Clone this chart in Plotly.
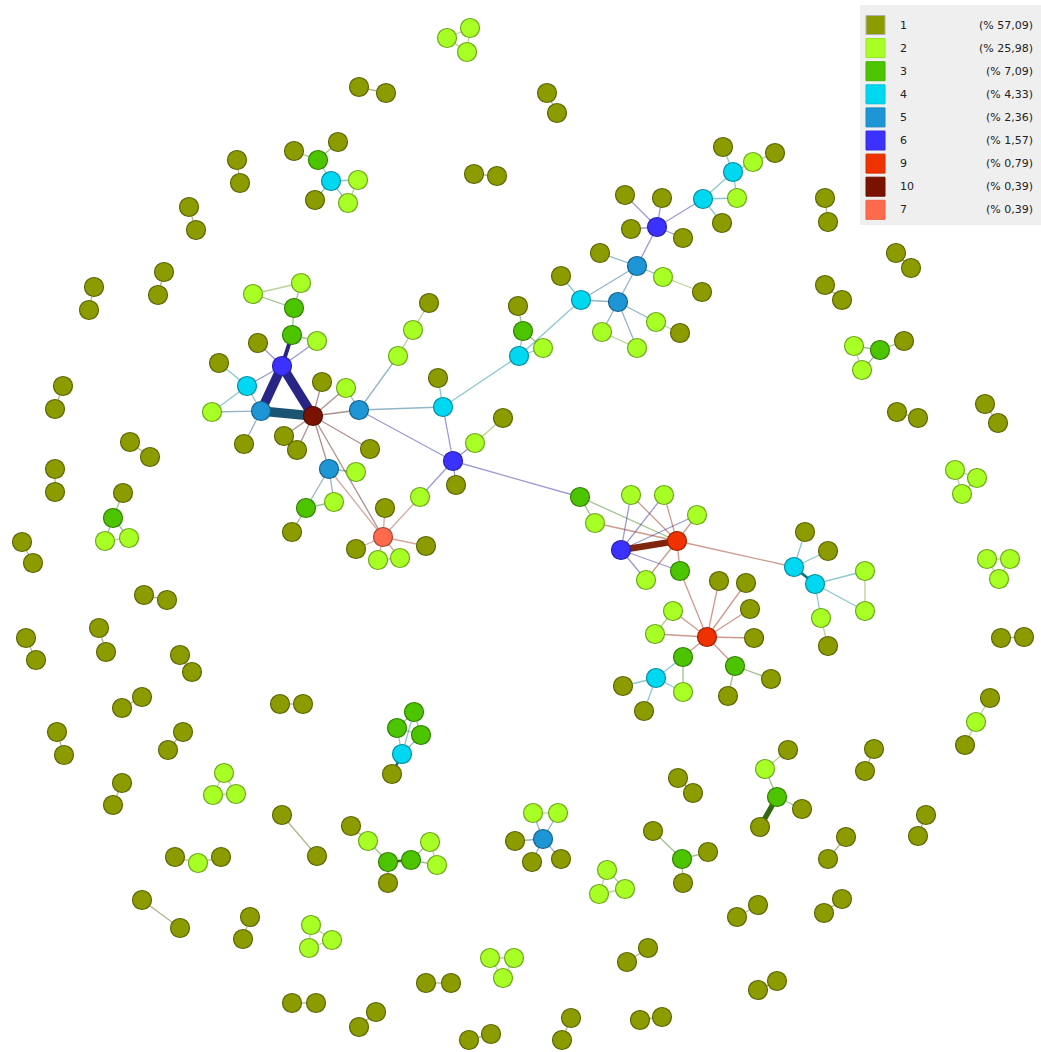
import plotly.graph_objects as go

# Degree classes shown in the legend, with their share of all nodes
classes = ["1", "2", "3", "4", "5", "6", "9", "10", "7"]
shares = ["57,09", "25,98", "7,09", "4,33", "2,36", "1,57", "0,79", "0,39", "0,39"]
class_colors = {
    1: "#8C9B00", 2: "#A8FF26", 3: "#4CC400", 4: "#00D8F2", 5: "#1E96D6",
    6: "#3C32FF", 9: "#F03200", 10: "#7A1200", 7: "#FF6A4C",
}

# Node layout (pixel space) and degree class
node_x = [
    # left hub
    253, 301, 294, 292, 317, 258, 282, 219, 247, 212, 261, 313, 322, 346, 359, 244, 284, 297, 370, 329,
    356, 334, 306, 292, 383, 385, 356, 426, 378, 400, 420, 429, 413, 398,
    # centre
    443, 438, 453, 475, 503, 456, 519, 523, 518, 543,
    # upper right branch
    723, 753, 775, 733, 703, 737, 722, 657, 625, 662, 631, 683, 637, 600, 663, 702, 581, 561, 618, 656,
    680, 602, 637,
    # lower right hubs
    580, 595, 631, 664, 697, 621, 677, 680, 646, 794, 805, 828, 815, 865, 865, 821, 828, 707, 719, 746,
    750, 754, 673, 655, 683, 735, 771, 728, 656, 683, 623, 644,
    # small components
    447, 470, 467,
    294, 338, 318, 331, 358, 315, 348,
    854, 880, 904, 862,
    123, 113, 105, 129,
    955, 977, 962,
    987, 1010, 999,
    990, 976, 965,
    414, 397, 421, 402, 392,
    224, 213, 236,
    788, 765, 777, 802, 760,
    533, 558, 515, 543, 532, 561,
    607, 599, 625,
    653, 682, 708, 683,
    351, 368, 388, 411, 430, 437, 388,
    175, 198, 221,
    311, 309, 332,
    490, 514, 503,
]
node_y = [
    294, 283, 308, 335, 341, 343, 366, 363, 386, 412, 411, 416, 382, 388, 410, 444, 436, 450, 449, 469,
    472, 502, 508, 532, 537, 508, 549, 546, 560, 558, 497, 303, 330, 356,
    407, 378, 461, 443, 418, 485, 356, 331, 306, 348,
    147, 162, 153, 172, 199, 198, 223, 227, 195, 198, 229, 238, 266, 253, 277, 292, 300, 276, 302, 322,
    333, 332, 348,
    497, 523, 495, 495, 515, 550, 541, 571, 580, 567, 532, 551, 584, 571, 611, 618, 646, 637, 581, 583,
    609, 638, 611, 634, 657, 666, 679, 696, 678, 692, 686, 711,
    38, 28, 52,
    151, 142, 160, 181, 180, 200, 203,
    346, 350, 341, 370,
    493, 518, 541, 538,
    470, 478, 494,
    559, 559, 579,
    698, 722, 745,
    712, 728, 735, 754, 774,
    773, 795, 794,
    750, 769, 797, 809, 827,
    813, 813, 841, 839, 862, 859,
    870, 894, 889,
    831, 859, 852, 883,
    826, 841, 862, 860, 842, 865, 883,
    857, 863, 857,
    925, 948, 940,
    958, 958, 978,
]
node_deg = [
    2, 2, 3, 3, 2, 1, 6, 1, 4, 2, 5, 10, 1, 2, 5, 1, 1, 1, 1, 5,
    2, 2, 3, 1, 7, 1, 1, 1, 2, 2, 2, 1, 2, 2,
    4, 1, 6, 2, 1, 1, 4, 3, 1, 2,
    1, 2, 1, 4, 4, 2, 1, 6, 1, 1, 1, 1, 5, 1, 2, 1, 4, 1, 5, 2,
    1, 2, 2,
    3, 2, 2, 2, 2, 6, 9, 3, 2, 4, 1, 1, 4, 2, 2, 2, 1, 9, 1, 1,
    1, 1, 2, 2, 3, 3, 1, 1, 4, 2, 1, 1,
    2, 2, 2,
    1, 1, 3, 4, 2, 1, 2,
    2, 3, 1, 2,
    1, 3, 2, 2,
    2, 2, 2,
    2, 2, 2,
    1, 2, 1,
    3, 3, 3, 4, 1,
    2, 2, 2,
    1, 2, 3, 1, 1,
    2, 2, 1, 5, 1, 1,
    2, 2, 2,
    1, 3, 1, 1,
    1, 2, 3, 3, 2, 2, 1,
    1, 2, 1,
    2, 2, 2,
    2, 2, 2,
]

# Isolated pairs of degree-1 nodes (first end, second end)
pair_x1 = [359, 547, 474, 237, 189, 164, 94, 825, 896, 825, 63, 985, 897, 130, 55, 22, 144, 26, 99, 180,
           1001, 122, 280, 57, 183, 122, 678, 874, 926, 846, 282, 142, 250, 737, 824, 627, 426, 758, 292,
           359, 469, 562, 640]
pair_y1 = [87, 93, 174, 160, 207, 272, 287, 198, 253, 285, 386, 404, 412, 442, 469, 542, 595, 638, 628, 655,
           638, 708, 704, 732, 732, 783, 778, 749, 815, 837, 815, 900, 917, 917, 913, 962, 983, 990, 1003,
           1027, 1040, 1040, 1020]
pair_x2 = [386, 557, 497, 240, 196, 158, 89, 828, 911, 842, 55, 998, 918, 150, 55, 33, 167, 36, 106, 192,
           1024, 142, 303, 64, 168, 113, 693, 865, 918, 828, 317, 180, 243, 758, 842, 648, 451, 777, 316,
           376, 491, 571, 662]
pair_y2 = [93, 113, 176, 183, 230, 295, 310, 222, 268, 300, 409, 423, 418, 457, 492, 563, 600, 660, 652, 672,
           637, 697, 704, 755, 750, 805, 793, 771, 836, 859, 856, 928, 939, 905, 899, 948, 983, 981, 1003,
           1012, 1034, 1018, 1017]

# Edges: (source, target); the source sets the edge colour
edges = [
    (2, 0), (2, 1), (0, 1), (2, 3), (6, 3), (6, 4), (3, 4), (6, 5), (6, 8), (6, 10), (6, 11), (8, 7), (8, 9),
    (8, 10), (10, 9), (10, 11), (10, 15), (11, 12), (11, 13), (14, 13), (11, 14), (11, 16), (11, 17), (11, 18),
    (11, 19), (11, 24), (19, 20), (19, 21), (19, 22), (22, 21), (22, 23), (24, 19), (24, 25), (24, 26),
    (24, 27), (24, 28), (24, 29), (28, 29), (24, 30), (36, 30), (14, 33), (33, 32), (32, 31), (14, 34),
    (36, 14), (34, 35), (36, 34), (34, 40), (36, 37), (37, 38), (36, 39), (36, 67), (40, 41), (41, 42),
    (40, 43), (41, 43), (60, 40),
    (47, 44), (47, 45), (45, 46), (47, 48), (47, 49), (48, 49), (48, 50), (51, 48), (51, 52), (51, 53),
    (51, 54), (51, 55), (51, 56), (56, 57), (56, 58), (58, 59), (56, 60), (56, 62), (60, 61), (62, 60),
    (62, 63), (63, 64), (62, 65), (62, 66), (65, 66),
    (67, 68), (67, 73), (73, 68), (73, 72), (72, 69), (72, 70), (72, 71), (72, 75), (72, 74), (73, 69),
    (73, 70), (73, 71), (73, 75), (73, 74), (73, 76), (76, 77), (76, 78), (76, 79), (79, 80), (79, 81),
    (80, 81), (79, 82), (82, 83), (84, 74), (84, 85), (84, 86), (84, 87), (84, 88), (84, 89), (84, 90),
    (84, 91), (84, 92), (89, 90), (92, 93), (92, 94), (95, 91), (91, 96), (95, 96), (95, 97), (95, 98),
    (99, 100), (100, 101), (99, 101),
    (104, 102), (104, 103), (105, 104), (105, 106), (105, 107), (105, 108), (106, 108),
    (110, 109), (110, 111), (110, 112), (109, 112),
    (114, 113), (114, 115), (114, 116), (115, 116),
    (117, 118), (118, 119), (117, 119),
    (120, 121), (121, 122), (120, 122),
    (124, 123), (124, 125),
    (126, 127), (126, 128), (127, 128), (129, 126), (129, 127), (129, 128), (129, 130),
    (131, 132), (132, 133), (131, 133),
    (135, 134), (136, 135), (136, 137), (136, 138),
    (139, 140), (142, 139), (142, 140), (142, 141), (142, 143), (142, 144),
    (145, 146), (146, 147), (145, 147),
    (149, 148), (149, 150), (149, 151),
    (153, 152), (154, 153), (154, 155), (154, 158), (155, 156), (155, 157), (156, 157),
    (160, 159), (160, 161),
    (162, 163), (163, 164), (162, 164),
    (165, 166), (166, 167), (165, 167),
]
# Edge weights above 1
edge_weight = {
    (6, 10): 7, (6, 11): 7, (10, 11): 7, (6, 3): 3, (73, 72): 5,
    (136, 138): 4, (76, 79): 2, (129, 130): 2, (154, 155): 2,
}

# append the isolated pairs
for x1, y1, x2, y2 in zip(pair_x1, pair_y1, pair_x2, pair_y2):
    a = len(node_x)
    node_x += [x1, x2]
    node_y += [y1, y2]
    node_deg += [1, 1]
    edges.append((a, a + 1))


def hex_rgb(h):
    h = h.lstrip("#")
    return tuple(int(h[i:i + 2], 16) for i in (0, 2, 4))


def shade(h, f, alpha=None):
    r, g, b = (int(round(c * f)) for c in hex_rgb(h))
    if alpha is None:
        return f"rgb({r},{g},{b})"
    return f"rgba({r},{g},{b},{alpha})"


fig = go.Figure()

# edges grouped by colour and width
groups = {}
for s, t in edges:
    w = edge_weight.get((s, t), 1)
    base = class_colors[node_deg[s]]
    if w == 1:
        col = shade(base, 0.6, 0.45)
        width = 1.3
    else:
        col = shade(base, 0.5, 0.95)
        width = 1.35 * w
    g = groups.setdefault((col, width), ([], []))
    g[0].extend([node_x[s], node_x[t], None])
    g[1].extend([node_y[s], node_y[t], None])

for (col, width), (xs, ys) in groups.items():
    fig.add_trace(go.Scatter(x=xs, y=ys, mode="lines", line=dict(color=col, width=width),
                             hoverinfo="skip", showlegend=False))

# nodes, one trace per class
for k in [1, 2, 3, 4, 5, 6, 9, 10, 7]:
    idx = [i for i, d in enumerate(node_deg) if d == k]
    fig.add_trace(go.Scatter(
        x=[node_x[i] for i in idx], y=[node_y[i] for i in idx], mode="markers",
        marker=dict(size=19, color=class_colors[k],
                    line=dict(color=shade(class_colors[k], 0.66), width=1.2)),
        name=str(k), showlegend=False, hoverinfo="skip"))

# legend panel
shapes = [dict(type="rect", xref="x", yref="y", x0=860, x1=1041, y0=5, y1=225,
               fillcolor="#EFEFEF", line=dict(width=0), layer="below")]
annotations = []
row0, step = 25, 23.1
for i, (c, s) in enumerate(zip(classes, shares)):
    yc = row0 + i * step
    col = class_colors[int(c)]
    shapes.append(dict(type="rect", xref="x", yref="y", x0=866, x1=885, y0=yc - 9.5, y1=yc + 9.5,
                       fillcolor=col, line=dict(color="#B0B0B0" if i == 0 else shade(col, 0.9), width=1)))
    annotations.append(dict(x=898, y=yc, xref="x", yref="y", text=c, showarrow=False,
                            xanchor="left", yanchor="middle",
                            font=dict(family="DejaVu Sans", size=11, color="#222222")))
    annotations.append(dict(x=1035, y=yc, xref="x", yref="y", text=f"(% {s})", showarrow=False,
                            xanchor="right", yanchor="middle",
                            font=dict(family="DejaVu Sans", size=11, color="#222222")))

fig.update_layout(
    width=1041, height=1052, margin=dict(l=0, r=0, t=0, b=0),
    paper_bgcolor="white", plot_bgcolor="white",
    xaxis=dict(range=[0, 1041], visible=False, fixedrange=True),
    yaxis=dict(range=[1052, 0], visible=False, fixedrange=True),
    shapes=shapes, annotations=annotations, showlegend=False,
)

fig.write_html("out.html")
